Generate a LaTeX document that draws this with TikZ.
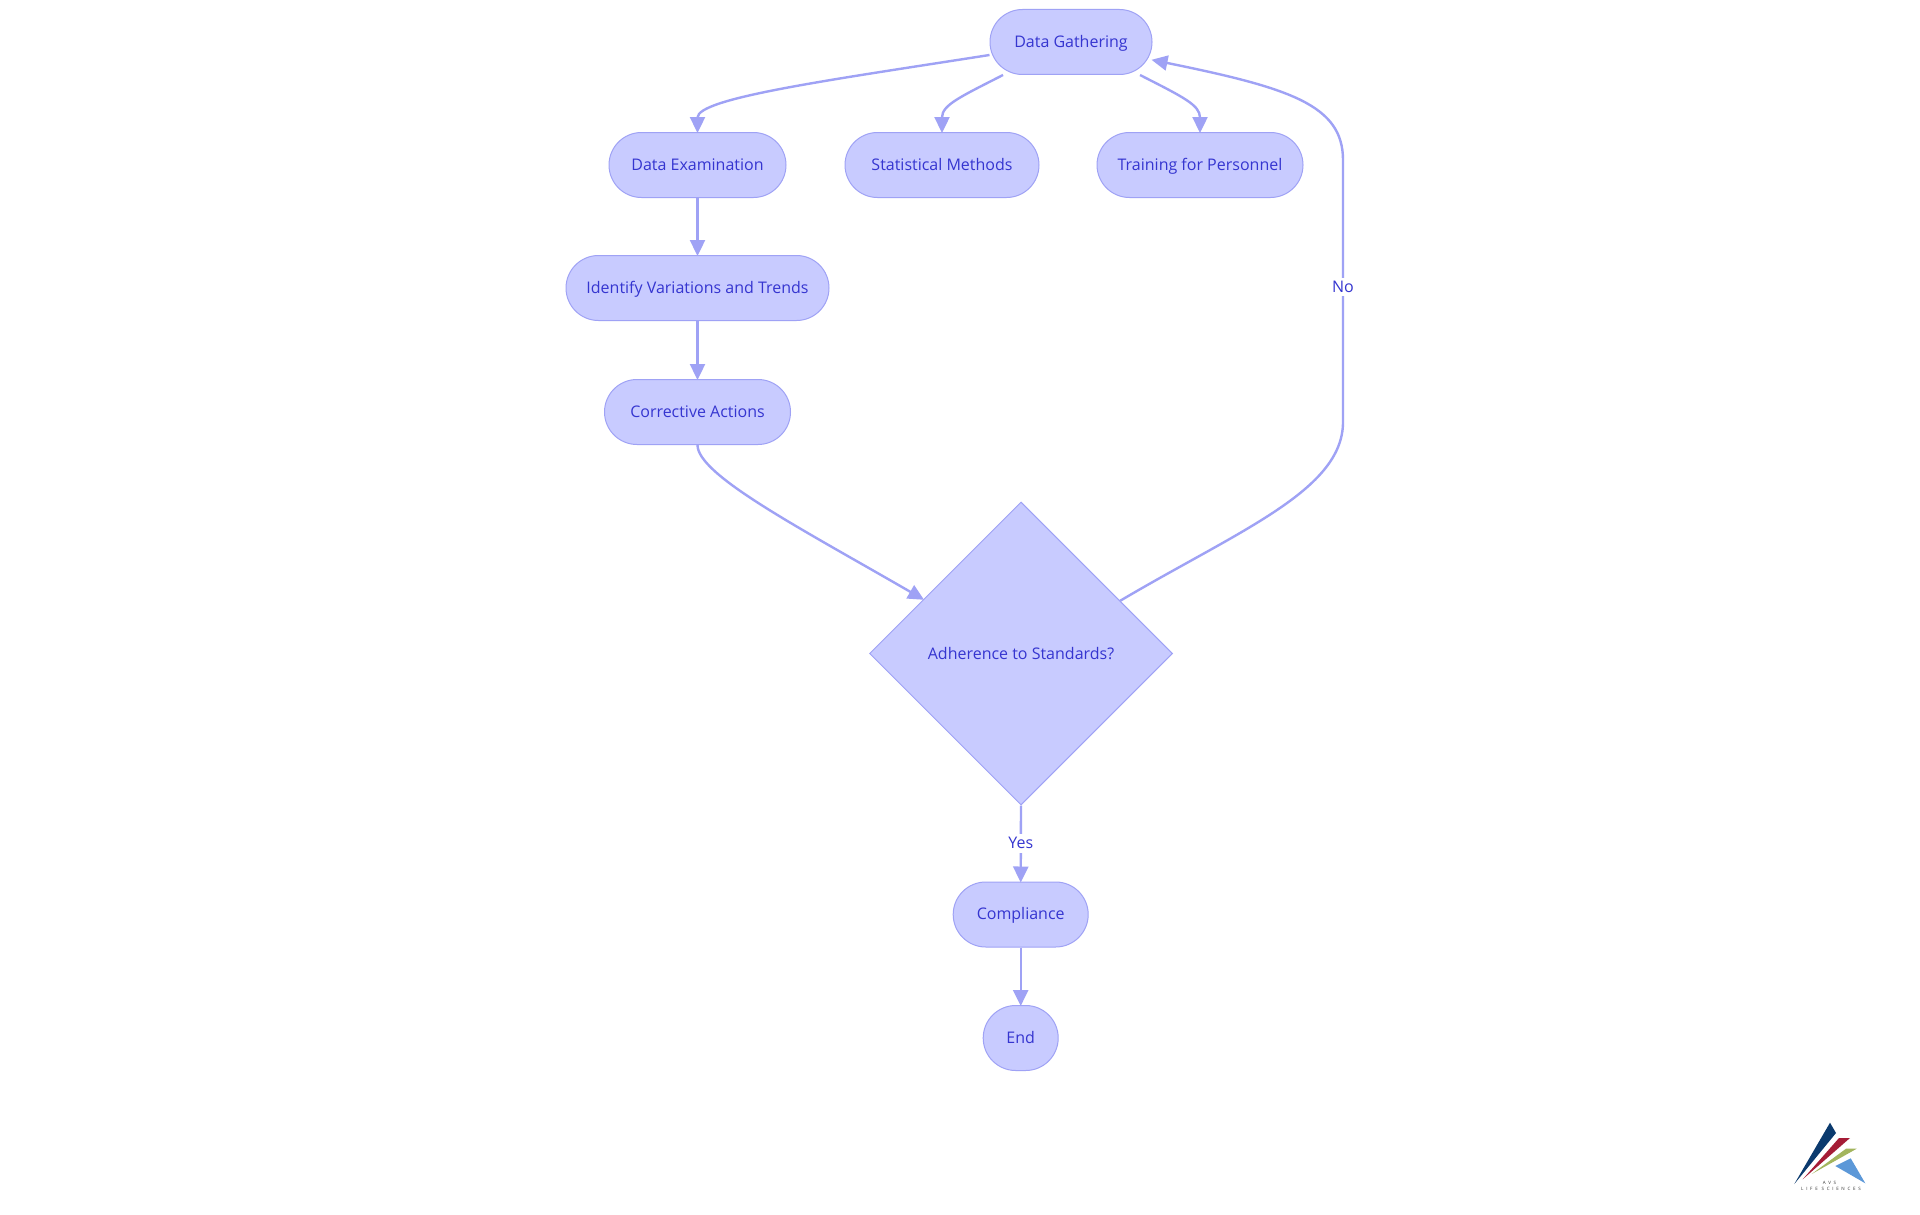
\documentclass[tikz,border=0pt]{standalone}
\usepackage{fontspec}
\setmainfont{Open Sans}
\newfontfamily\logofont[LetterSpace=60]{Open Sans}
\usetikzlibrary{shapes.misc,shapes.geometric,arrows.meta}
\definecolor{nodefill}{HTML}{C8CBFF}
\definecolor{nodeline}{HTML}{9FA2F5}
\definecolor{nodetext}{HTML}{3535D0}
\definecolor{logonavy}{HTML}{0B3A6E}
\definecolor{logored}{HTML}{A51C36}
\definecolor{logogreen}{HTML}{A3B55E}
\definecolor{logoblue}{HTML}{5C98D8}
\tikzset{
  x=1pt,y=-1pt,
  base/.style={draw=nodeline,fill=nodefill,text=nodetext,line width=1pt,font=\fontsize{16}{19}\selectfont,inner sep=0pt,anchor=center},
  pill/.style={base,shape=rounded rectangle,rounded rectangle arc length=180,minimum height=65pt,text height=13pt,text depth=2.5pt},
  decision/.style={base,shape=diamond,aspect=1,minimum width=303pt,minimum height=303pt},
  flow/.style={draw=nodeline,line width=2.4pt,shorten >=-1pt,-{Triangle[length=16pt,width=15pt]}},
  lab/.style={fill=white,text=nodetext,font=\fontsize{16}{19}\selectfont,inner sep=1.5pt,text height=13pt,text depth=2.5pt},
}
\begin{document}
\begin{tikzpicture}
\useasboundingbox (0,0) rectangle (1920,1215);
\fill[white] (0,0) rectangle (1920,1215);
\node[pill,minimum width=162pt] (dg) at (1071,42) {Data Gathering};
\node[pill,minimum width=177pt] (de) at (697.5,165) {Data Examination};
\node[pill,minimum width=194pt] (sm) at (942,165) {Statistical Methods};
\node[pill,minimum width=206pt] (tp) at (1200,165) {Training for Personnel};
\node[pill,minimum width=263pt] (iv) at (697.5,288) {Identify Variations and Trends};
\node[pill,minimum width=186pt] (ca) at (697.5,412) {Corrective Actions};
\node[decision] (ad) at (1021,653.5) {Adherence to Standards?};
\node[pill,minimum width=135pt] (co) at (1020.7,914.5) {Compliance};
\node[pill,minimum width=75pt] (en) at (1020.7,1038) {End};
\draw[flow] ([yshift=-13pt]dg.west) .. controls (830,80) and (697.5,98) .. (de.north);
\draw[flow] ([xshift=-68pt]dg.south) .. controls (960,97) and (942,105) .. (sm.north);
\draw[flow] ([xshift=69pt]dg.south) .. controls (1183,97) and (1200,105) .. (tp.north);
\draw[flow] (de.south) -- (iv.north);
\draw[flow] (iv.south) -- (ca.north);
\draw[flow] (ca.south) .. controls (697.5,475) and (800,528) .. (ad.151.3);
\draw[flow] (ad.28.9) .. controls (1240,530) and (1343,490) .. (1343,422) -- node[lab,pos=.515] (no) {No} (1343,160) .. controls (1343,105) and (1290,88) .. ([yshift=-18pt]dg.east);
\draw[flow] (ad.south) -- node[lab] (yes) {Yes} (co.north);
\draw[flow] (co.south) -- (en.north);
\fill[logonavy] (1830,1122.7) -- (1836,1133) -- (1794.3,1184) -- cycle;
\fill[logored] (1850,1138) -- (1839,1138) -- (1802.7,1179.3) -- cycle;
\fill[logogreen] (1856.7,1148.7) -- (1846,1148.7) -- (1811.7,1174) -- cycle;
\fill[logoblue] (1850.7,1158.3) -- (1835.3,1166) -- (1865.3,1183.3) -- cycle;
\node[text=black!80,inner sep=0pt,font=\logofont\fontsize{4.5}{5}\selectfont] (logoa) at (1829.5,1182.5) {AVS};
\node[text=black!80,inner sep=0pt,font=\logofont\fontsize{4.5}{5}\selectfont] (logob) at (1831,1189) {LIFE SCIENCES};
\end{tikzpicture}
\end{document}
